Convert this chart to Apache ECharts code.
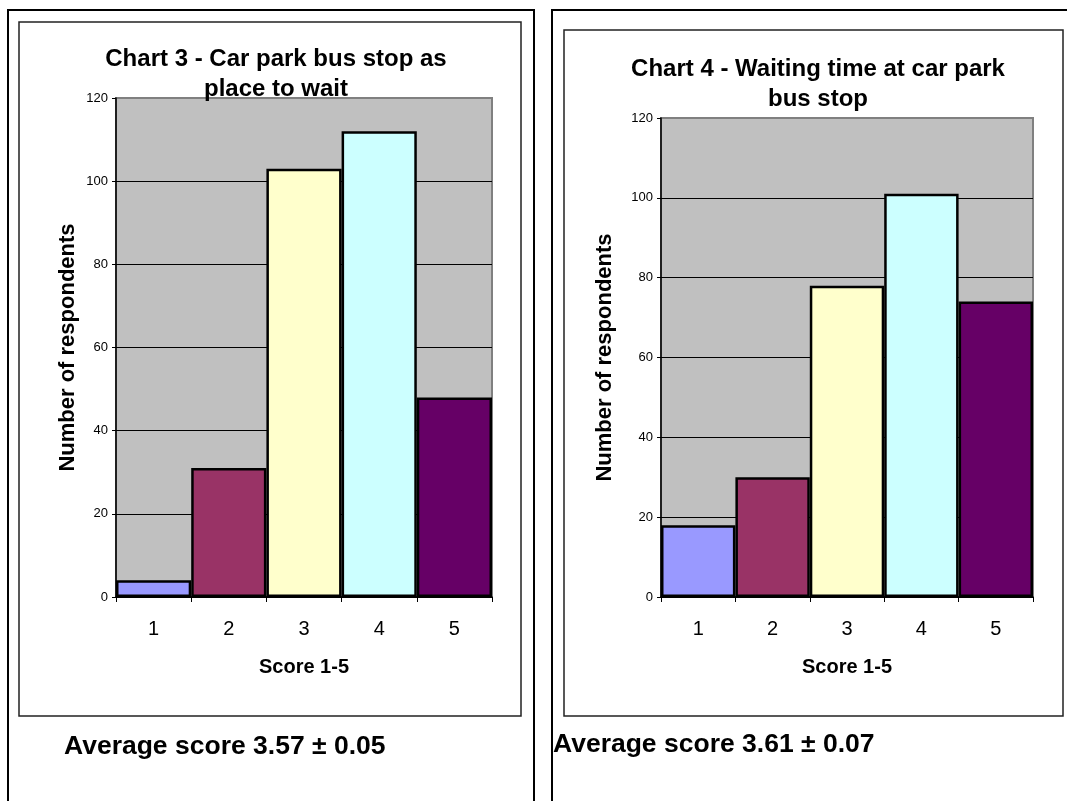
<!DOCTYPE html>
<html>
<head>
<meta charset="utf-8">
<title>Car park bus stop survey</title>
<script src="https://cdn.jsdelivr.net/npm/echarts@6/dist/echarts.min.js"></script>
<style>
  html, body { margin: 0; padding: 0; background: #fff; }
  #main { width: 1067px; height: 801px; }
</style>
</head>
<body>
<div id="main"></div>
<script>
// Survey scores (1-5) and respondent counts for the two questions
const categories = ['1', '2', '3', '4', '5'];
const chart3Values = [4, 31, 103, 112, 48];
const chart4Values = [18, 30, 78, 101, 74];
const barColors = ['#9999FF', '#993366', '#FFFFCC', '#CCFFFF', '#660066'];

const chart3Title = 'Chart 3 - Car park bus stop as\nplace to wait';
const chart4Title = 'Chart 4 - Waiting time at car park\nbus stop';
const chart3Average = 'Average score 3.57 \u00b1 0.05';
const chart4Average = 'Average score 3.61 \u00b1 0.07';
const xAxisTitle = 'Score 1-5';
const yAxisTitle = 'Number of respondents';
const yMin = 0, yMax = 120, yStep = 20;

const FONT = '"Liberation Sans", Arial, Helvetica, sans-serif';

const chart = echarts.init(document.getElementById('main'), null, { renderer: 'canvas' });

function makeXAxis(gridIndex) {
  return {
    type: 'category',
    gridIndex: gridIndex,
    data: categories,
    axisLine: { show: true, lineStyle: { color: '#000', width: 1.5 } },
    axisTick: { show: true, alignWithLabel: false, length: 5, lineStyle: { color: '#000' } },
    axisLabel: { color: '#000', fontFamily: FONT, fontSize: 20, margin: 22 },
    name: xAxisTitle,
    nameLocation: 'middle',
    nameGap: 60,
    nameTextStyle: { color: '#000', fontFamily: FONT, fontSize: 20, fontWeight: 'bold' }
  };
}

function makeYAxis(gridIndex, nameGap) {
  return {
    type: 'value',
    gridIndex: gridIndex,
    min: yMin,
    max: yMax,
    interval: yStep,
    axisLine: { show: true, lineStyle: { color: '#000', width: 1.5 } },
    axisTick: { show: true, inside: false, length: 4, lineStyle: { color: '#000' } },
    axisLabel: { color: '#000', fontFamily: FONT, fontSize: 13, margin: 8 },
    splitLine: {
      show: true,
      lineStyle: { color: ['#000', '#000', '#000', '#000', '#000', '#000', '#808080'], width: 1 }
    },
    name: yAxisTitle,
    nameLocation: 'middle',
    nameRotate: 90,
    nameGap: nameGap,
    nameTextStyle: { color: '#000', fontFamily: FONT, fontSize: 22, fontWeight: 'bold' }
  };
}

function makeSeries(index, values) {
  return {
    type: 'bar',
    xAxisIndex: index,
    yAxisIndex: index,
    barCategoryGap: '0%',
    data: values.map((v, i) => ({
      value: v,
      itemStyle: { color: barColors[i] }
    })),
    itemStyle: { borderColor: '#000', borderWidth: 2.5 },
    emphasis: { disabled: true },
    animation: false,
    z: 3
  };
}

const frameStyle = { fill: 'none', stroke: '#222', lineWidth: 1.5 };
const cellStyle = { fill: 'none', stroke: '#000', lineWidth: 2 };

const option = {
  backgroundColor: '#fff',
  animation: false,
  title: [
    {
      text: chart3Title,
      left: 271, top: 39, textAlign: 'center',
      textStyle: { color: '#000', fontFamily: FONT, fontSize: 24, fontWeight: 'bold', lineHeight: 30 }
    },
    {
      text: chart4Title,
      left: 813, top: 49, textAlign: 'center',
      textStyle: { color: '#000', fontFamily: FONT, fontSize: 24, fontWeight: 'bold', lineHeight: 30 }
    }
  ],
  grid: [
    { left: 116, top: 98, width: 376, height: 499, show: true, backgroundColor: '#C0C0C0', borderColor: '#808080', borderWidth: 2, z: 0 },
    { left: 661, top: 118, width: 372, height: 479, show: true, backgroundColor: '#C0C0C0', borderColor: '#808080', borderWidth: 2, z: 0 }
  ],
  xAxis: [makeXAxis(0), makeXAxis(1)],
  yAxis: [makeYAxis(0, 37), makeYAxis(1, 45)],
  series: [makeSeries(0, chart3Values), makeSeries(1, chart4Values)],
  graphic: [
    // table cells
    { type: 'rect', shape: { x: 8, y: 10, width: 526, height: 820 }, style: cellStyle, silent: true, z: -1 },
    { type: 'rect', shape: { x: 552, y: 10, width: 540, height: 820 }, style: cellStyle, silent: true, z: -1 },
    // chart frames
    { type: 'rect', shape: { x: 19, y: 22, width: 502, height: 694 }, style: frameStyle, silent: true, z: -1 },
    { type: 'rect', shape: { x: 564, y: 30, width: 499, height: 686 }, style: frameStyle, silent: true, z: -1 },
    // averages under each chart
    {
      type: 'text', left: 64, top: 733, silent: true,
      style: { text: chart3Average, fill: '#000', font: 'bold 26.5px ' + FONT }
    },
    {
      type: 'text', left: 553, top: 731, silent: true,
      style: { text: chart4Average, fill: '#000', font: 'bold 26.5px ' + FONT }
    }
  ]
};

chart.setOption(option);
</script>
</body>
</html>
